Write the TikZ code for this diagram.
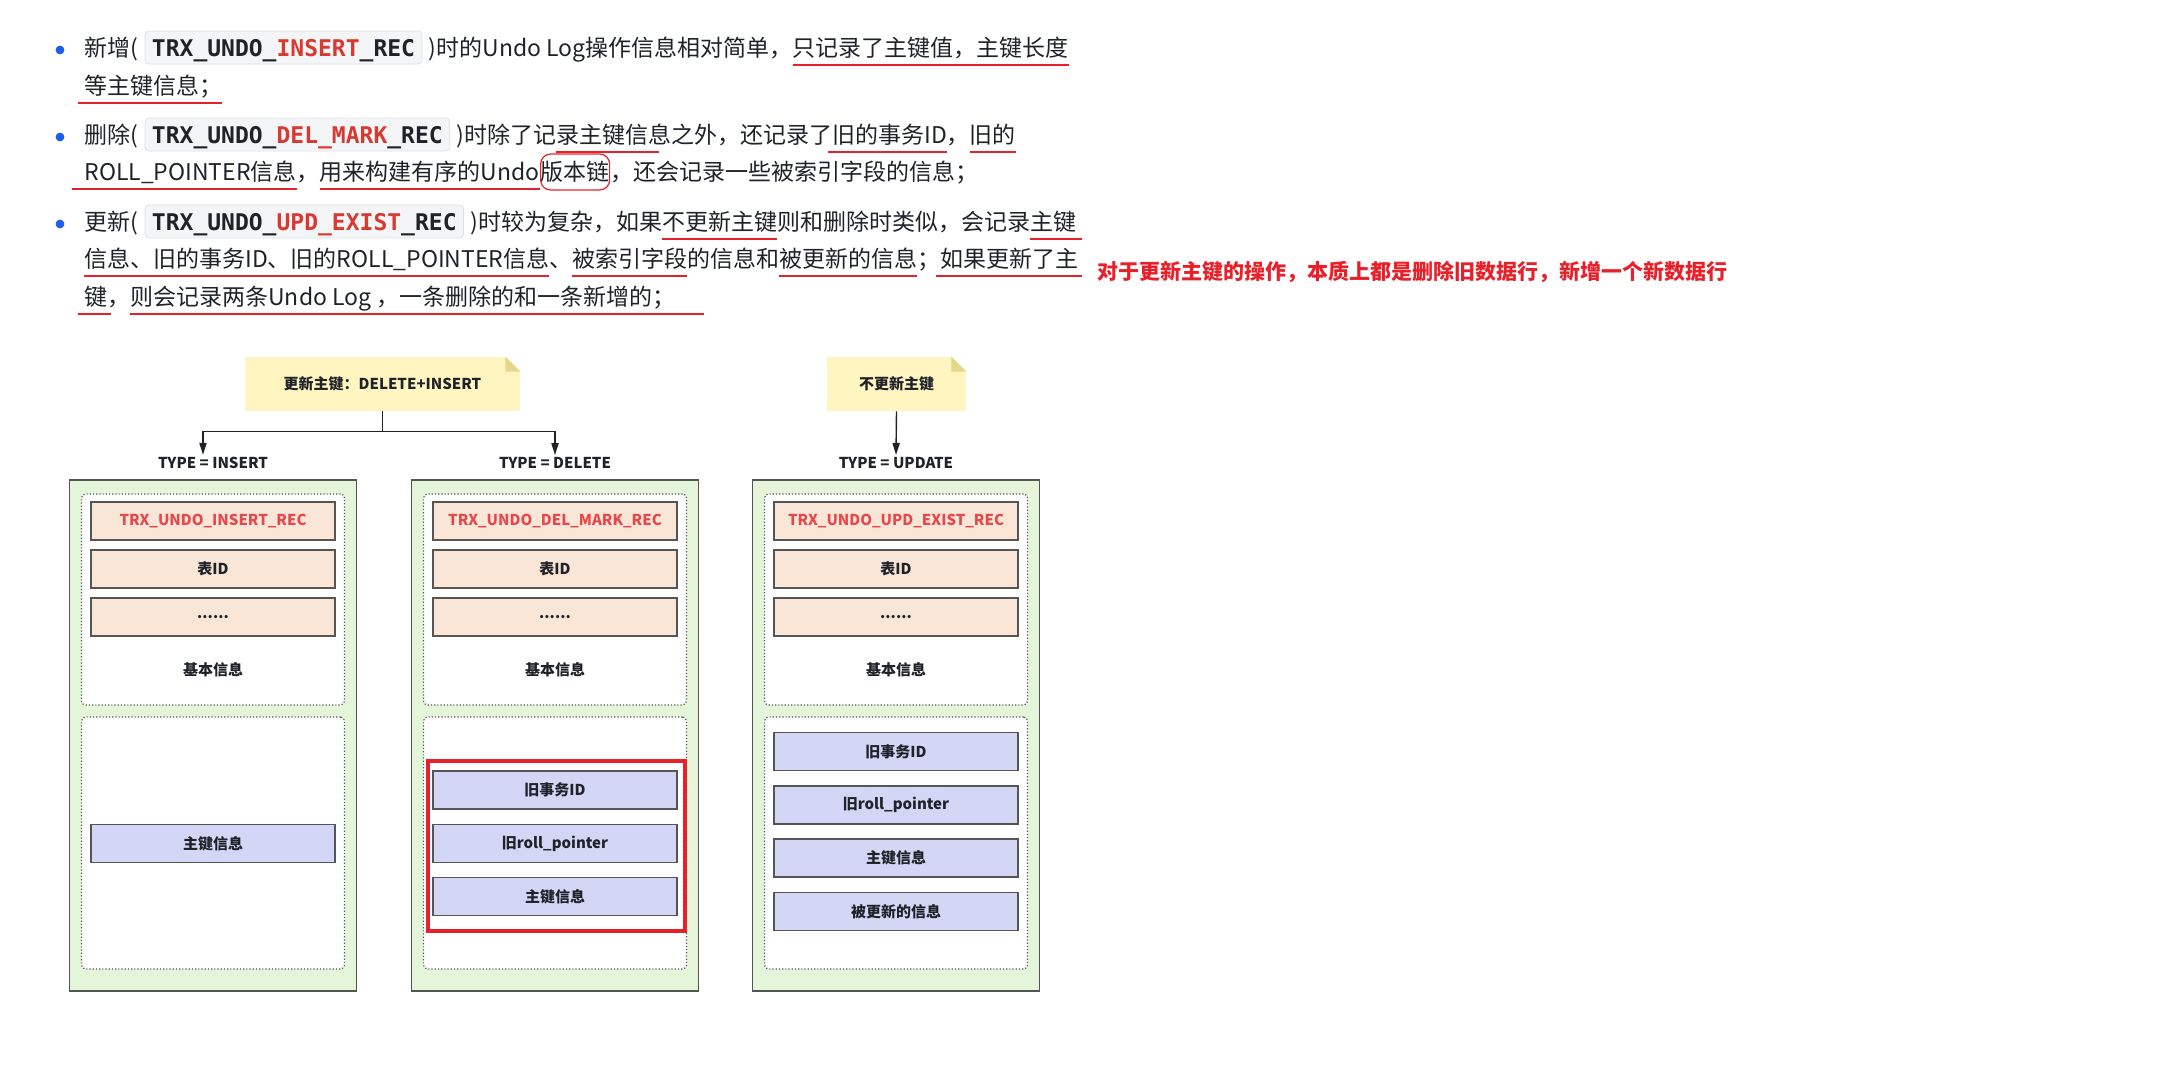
\documentclass[tikz,border=0pt]{standalone}
\usepackage{fontspec}
\setmainfont{Noto Sans CJK SC}
\setmonofont{DejaVu Sans Mono}
\usetikzlibrary{arrows.meta, positioning}

\definecolor{ink}{HTML}{1F2329}
\definecolor{pen}{HTML}{E8202A}
\definecolor{keyred}{HTML}{D83931}
\definecolor{codebg}{HTML}{F4F5F6}
\definecolor{codeline}{HTML}{DEE0E3}
\definecolor{dotblue}{HTML}{1F5FE6}
\definecolor{panelgreen}{HTML}{E4F5DA}
\definecolor{peach}{HTML}{FAE6D7}
\definecolor{lilac}{HTML}{D4D6F6}
\definecolor{noteyellow}{HTML}{FFF5C0}
\definecolor{notefold}{HTML}{E6D68C}
\definecolor{fieldred}{HTML}{E5484D}
\definecolor{edge}{HTML}{555555}

% red hand-made underline under a piece of text
\newsavebox{\ulbox}
\NewDocumentCommand{\redul}{O{0pt}O{0pt}m}{%
  \sbox{\ulbox}{#3}%
  \rlap{\kern-#1\textcolor{pen}{\rule[-5pt]{\dimexpr\wd\ulbox+(#1)+(#2)\relax}{1.1pt}}}%
  \usebox{\ulbox}}

\tikzset{
    para/.style={anchor=base west, inner sep=0pt, text=ink, font=\fontsize{11.5}{14}\selectfont},
    codechip/.style={draw=codeline, fill=codebg, rounded corners=2pt, inner xsep=3.5pt, inner ysep=2.5pt,
        text height=10pt, text depth=1.5pt, text=ink, font=\fontsize{11.5}{14}\selectfont\ttfamily\bfseries},
    ring/.style={para, draw=pen, line width=0.6pt, rounded corners=5pt, inner xsep=0pt, inner ysep=3.5pt,
        text height=9.5pt, text depth=1.5pt},
    bullet/.style={circle, fill=dotblue, inner sep=0pt, minimum size=4.4pt},
    rednote/.style={anchor=base west, inner sep=0pt, text=pen, font=\fontsize{10.5}{13}\selectfont\bfseries},
    notebox/.style={fill=noteyellow, minimum height=27pt, inner sep=0pt, text=ink, font=\fontsize{7.5}{9}\selectfont\bfseries},
    typelabel/.style={inner sep=1pt, text=ink, font=\fontsize{7.5}{9}\selectfont\bfseries},
    panel/.style={draw=edge, line width=0.7pt, fill=panelgreen, minimum width=143.5pt, minimum height=255.5pt},
    zone/.style={draw=edge, densely dotted, line width=0.6pt, fill=white, rounded corners=2pt, minimum width=131.5pt},
    field/.style={draw=edge, line width=0.9pt, minimum width=122pt, minimum height=19pt, inner sep=0pt,
        text=ink, font=\fontsize{7.5}{9}\selectfont\bfseries},
    typebox/.style={field, fill=peach, text=fieldred},
    infobox/.style={field, fill=peach},
    keybox/.style={field, fill=lilac},
    fieldlabel/.style={inner sep=0pt, text=ink, font=\fontsize{7.5}{9}\selectfont\bfseries},
    flow/.style={draw=ink, line width=0.7pt},
    feed/.style={flow, -{Triangle[length=6pt,width=3.6pt]}},
    redframe/.style={draw=pen, line width=2pt}
}

\begin{document}
\begin{tikzpicture}[x=0.5pt,y=-0.5pt]
\useasboundingbox (0,0) rectangle (2163,1087);

% the three bullet points
\node[bullet] (dotIns) at (60,50) {};
\node[para] (insPre) at (84,56) {新增(};
\node[codechip, base right=3pt of insPre] (insCode) {TRX\_UNDO\_\textcolor{keyred}{INSERT}\_REC};
\node[para, base right=3pt of insCode] (insPost) {)时的Undo Log操作信息相对简单，\redul{只记录了主键值，主键长度}};
\node[para] (insMore) at (84,94) {\redul[3pt]{等主键信息；}};

\node[bullet] (dotDel) at (60,137) {};
\node[para] (delPre) at (84,143) {删除(};
\node[codechip, base right=3pt of delPre] (delCode) {TRX\_UNDO\_\textcolor{keyred}{DEL\_MARK}\_REC};
\node[para, base right=3pt of delCode] (delPost) {)时除了记\redul[0pt][-6pt]{录主键信息}之外，还记录了\redul[2pt]{旧的事务ID}，\redul{旧的}};
\node[para] (delMore) at (84,180) {\redul[6pt]{ROLL\_POINTER信息}，\redul{用来构建有序的Undo}};
\node[ring, base right=0pt of delMore] (delChain) {版本链};
\node[para, base right=0pt of delChain] (delTail) {，还会记录一些被索引字段的信息；};

\node[bullet] (dotUpd) at (60,224) {};
\node[para] (updPre) at (84,230) {更新(};
\node[codechip, base right=3pt of updPre] (updCode) {TRX\_UNDO\_\textcolor{keyred}{UPD\_EXIST}\_REC};
\node[para, base right=3pt of updCode] (updPost) {)时较为复杂，如果\redul{不更新主键}则和删除时类似，会记录\redul[0pt][3pt]{主键}};
\node[para] (updMore) at (84,267) {\redul{信息、旧的事务ID、旧的ROLL\_POINTER信息}、\redul{被索引字段}的信息和\redul{被更新的信息}；\redul[2pt][2pt]{如果更新了主}};
\node[para] (updLast) at (84,305) {\redul[3pt][2pt]{键}，\redul[0pt][14pt]{则会记录两条Undo Log ，一条删除的和一条新增的；}};

\node[rednote] (verdict) at (1097,279) {对于更新主键的操作，本质上都是删除旧数据行，新增一个新数据行};

% notes on top
\node[notebox, minimum width=137.5pt] (noteSplit) at (382.5,384) {更新主键：DELETE+INSERT};
\node[notebox, minimum width=69.5pt] (noteKeep) at (896.5,384) {不更新主键};
\foreach \n in {noteSplit,noteKeep}{
    \fill[white] ([xshift=-7.5pt]\n.north east) -- (\n.north east) -- ([yshift=-7.5pt]\n.north east) -- cycle;
    \fill[notefold] ([xshift=-7.5pt]\n.north east) -- ([xshift=-7.5pt,yshift=-7.5pt]\n.north east) -- ([yshift=-7.5pt]\n.north east) -- cycle;
}

\node[typelabel] (typeIns) at (213,463) {TYPE = INSERT};
\node[typelabel] (typeDel) at (555,463) {TYPE = DELETE};
\node[typelabel] (typeUpd) at (896,463) {TYPE = UPDATE};

\coordinate (fork) at ([yshift=-10pt]noteSplit.south);
\draw[flow] (noteSplit.south) -- (fork);
\draw[feed] (fork) -| ([xshift=-5pt]typeIns.north);
\draw[feed] (fork) -| (typeDel.north);
\draw[feed] (noteKeep.south) -- (typeUpd.north);

% the three undo records
\foreach \col/\x/\rec in {Ins/213/INSERT, Del/555/DEL\_MARK, Upd/896/UPD\_EXIST}{
    \node[panel] (panel\col) at (\x,735.5) {};
    \node[zone, minimum height=105.5pt] (base\col) at (\x,599.5) {};
    \node[zone, minimum height=126pt] (rest\col) at (\x,843) {};
    \node[typebox] (rec\col) at (\x,521) {TRX\_UNDO\_\rec\_REC};
    \node[infobox] (tab\col) at (\x,569) {表ID};
    \node[infobox] (more\col) at (\x,617) {......};
    \node[fieldlabel] (basic\col) at (\x,670) {基本信息};
}

\node[keybox] (pkIns) at (213,843.5) {主键信息};

\node[keybox] (oldTrxDel) at (555,790) {旧事务ID};
\node[keybox] (oldPtrDel) at (555,843.5) {旧roll\_pointer};
\node[keybox] (pkDel) at (555,896.5) {主键信息};
\draw[redframe] ([shift={(-2pt,4.5pt)}]oldTrxDel.north west) rectangle ([shift={(3.5pt,-7.5pt)}]pkDel.south east);

\node[keybox] (oldTrxUpd) at (896,751.5) {旧事务ID};
\node[keybox] (oldPtrUpd) at (896,805) {旧roll\_pointer};
\node[keybox] (pkUpd) at (896,858) {主键信息};
\node[keybox] (newUpd) at (896,911.5) {被更新的信息};
\end{tikzpicture}
\end{document}
